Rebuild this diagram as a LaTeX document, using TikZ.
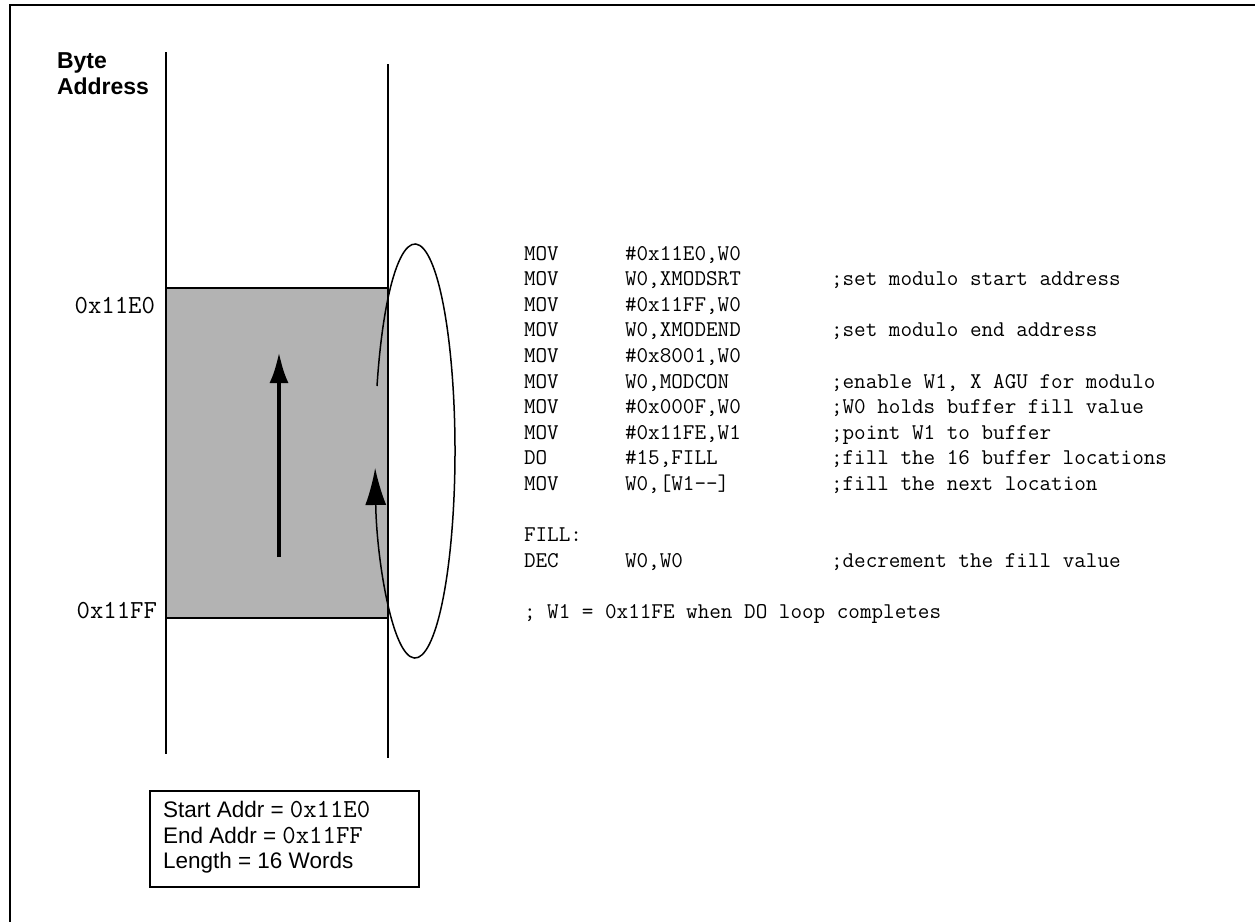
\documentclass[tikz,border=0pt]{standalone}
\usepackage{fontspec}
\usepackage{xcolor}
\usetikzlibrary{arrows.meta}
\newfontfamily\helvfont{Liberation Sans}

\begin{document}
\begin{tikzpicture}[x=1pt,y=-1pt,line cap=rect,
  codetext/.style={inner sep=0, outer sep=0, anchor=base west, font=\codefont},
  addrtext/.style={inner sep=0, outer sep=0, anchor=base east, font=\hexfont},
  sanstext/.style={inner sep=0, outer sep=0, anchor=base west, font=\helvfont\fontsize{22.5}{22.5}\selectfont},
  headtext/.style={inner sep=0, outer sep=0, anchor=base west, font=\helvfont\bfseries\fontsize{23}{23}\selectfont}]
\def\codefont{\ttfamily\fontsize{22.5}{22.5}\selectfont}
\def\hexfont{\ttfamily\fontsize{26}{26}\selectfont}
\def\hexval#1{{\hexfont #1}}
\definecolor{custcol_0_0_0}{RGB}{0, 0, 0}
\definecolor{custcol_b3_b3_b3}{RGB}{179, 179, 179}
\useasboundingbox (0,0) rectangle (1255,921);
% frame
\draw [line width=2.0pt, custcol_0_0_0 ]  (10.0,930.0) -- (10.0,5.0) -- (1265.0,5.0) ;
% memory column
\draw [line width=2.0pt, custcol_0_0_0 ]  (166.0,53.0) -- (166.0,753.0) ;
\draw [line width=2.0pt, custcol_0_0_0 ]  (388.0,65.0) -- (388.0,757.0) ;
\draw [line width=2.0pt, custcol_0_0_0, fill=custcol_b3_b3_b3 ]  (166.0,288.0) rectangle (388.0,618.0) ;
\draw [line width=4.0pt, line cap=butt, custcol_0_0_0, -{Latex[length=31pt,width=19pt]} ]  (279.0,557.0) -- (279.0,352.0) ;
% wrap around loop
\draw [line width=1.5pt, line cap=butt, custcol_0_0_0, -{Latex[length=37pt,width=21pt]} ]  (415.0,451.0) ++(198.3:40.0 and 207.0) arc [start angle=198.3, end angle=535.3, x radius=40.0, y radius=207.0] ;
% labels
\node[headtext] (bytelbl) at (57.0,68.0) {Byte};
\node[headtext] (addrlbl) at (57.0,94.0) {Address};
\node[addrtext] (startlbl) at (155.0,313.0) {0x11E0};
\node[addrtext] (endlbl) at (157.0,618.0) {0x11FF};
% code listing
\node[codetext] (op1) at (524.0,260.0) {MOV};
\node[codetext] (arg1) at (625.0,260.0) {\#0x11E0,W0};
\node[codetext] (op2) at (524.0,285.6) {MOV};
\node[codetext] (arg2) at (625.0,285.6) {W0,XMODSRT};
\node[codetext] (cmt2) at (831.0,285.6) {;set modulo start address};
\node[codetext] (op3) at (524.0,311.2) {MOV};
\node[codetext] (arg3) at (625.0,311.2) {\#0x11FF,W0};
\node[codetext] (op4) at (524.0,336.8) {MOV};
\node[codetext] (arg4) at (625.0,336.8) {W0,XMODEND};
\node[codetext] (cmt4) at (831.0,336.8) {;set modulo end address};
\node[codetext] (op5) at (524.0,362.4) {MOV};
\node[codetext] (arg5) at (625.0,362.4) {\#0x8001,W0};
\node[codetext] (op6) at (524.0,388.0) {MOV};
\node[codetext] (arg6) at (625.0,388.0) {W0,MODCON};
\node[codetext] (cmt6) at (831.0,388.0) {;enable W1, X AGU for modulo};
\node[codetext] (op7) at (524.0,413.6) {MOV};
\node[codetext] (arg7) at (625.0,413.6) {\#0x000F,W0};
\node[codetext] (cmt7) at (831.0,413.6) {;W0 holds buffer fill value};
\node[codetext] (op8) at (524.0,439.2) {MOV};
\node[codetext] (arg8) at (625.0,439.2) {\#0x11FE,W1};
\node[codetext] (cmt8) at (831.0,439.2) {;point W1 to buffer};
\node[codetext] (op9) at (524.0,464.8) {DO};
\node[codetext] (arg9) at (625.0,464.8) {\#15,FILL};
\node[codetext] (cmt9) at (831.0,464.8) {;fill the 16 buffer locations};
\node[codetext] (op10) at (524.0,490.4) {MOV};
\node[codetext] (arg10) at (625.0,490.4) {W0,[W1-{}-]};
\node[codetext] (cmt10) at (831.0,490.4) {;fill the next location};
\node[codetext] (fill) at (524.0,541.6) {FILL:};
\node[codetext] (op12) at (524.0,567.2) {DEC};
\node[codetext] (arg12) at (625.0,567.2) {W0,W0};
\node[codetext] (cmt12) at (831.0,567.2) {;decrement the fill value};
\node[codetext] (endnote) at (524.0,618.4) {; W1 = 0x11FE when DO loop completes};
% summary box
\draw [line width=2.0pt, custcol_0_0_0 ]  (150.0,791.0) rectangle (419.0,887.0) ;
\node[sanstext] (startaddr) at (163.0,817.0) {Start Addr = \hexval{0x11E0}};
\node[sanstext] (endaddr) at (163.0,843.0) {End Addr = \hexval{0x11FF}};
\node[sanstext] (length) at (163.0,868.0) {Length = 16 Words};
\end{tikzpicture}
\end{document}
